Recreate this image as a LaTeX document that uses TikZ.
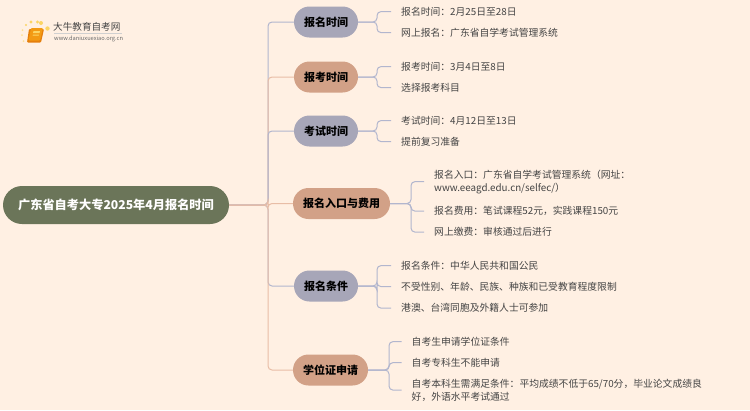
\documentclass[tikz,border=0pt]{standalone}
\usepackage{fontspec}
\setmainfont{Noto Sans CJK SC}
\usepackage{xcolor}
\usetikzlibrary{
  arrows.meta,
  positioning,
  calc,
}
\definecolor{pagebg}{HTML}{FFF0E3}
\definecolor{rootfill}{HTML}{6B7559}
\definecolor{lavender}{HTML}{A7A6B8}
\definecolor{tan}{HTML}{D2A187}
\definecolor{linkblue}{HTML}{B2B6CE}
\definecolor{linktan}{HTML}{E8BDA6}
\definecolor{inktext}{HTML}{444444}
\definecolor{logoink}{HTML}{444444}
\definecolor{bookorange}{HTML}{F39A13}
\definecolor{bookdark}{HTML}{E57F0C}
\definecolor{sunyellow}{HTML}{FBD564}
\tikzset{
  font=\fontsize{9.8pt}{13pt}\selectfont,
  root/.style={
    fill=rootfill, rounded corners=19pt,
    minimum width=226pt, minimum height=38pt, inner sep=0pt,
    text=white, font=\fontsize{12.2pt}{16pt}\selectfont\bfseries,
  },
  branch/.style={
    fill=#1, rounded corners=15.5pt,
    minimum height=31pt, inner sep=0pt,
    text=black, font=\fontsize{11pt}{15pt}\selectfont\bfseries,
  },
  leaf/.style={
    anchor=west, inner xsep=10pt, inner ysep=0pt, yshift=-0.6pt,
    align=left, text=inktext,
  },
  trunk/.style={draw=#1, line width=1pt, rounded corners=4pt},
  twig/.style={draw=linkblue, line width=1pt, rounded corners=4pt},
}
\begin{document}
\begin{tikzpicture}[x=1pt,y=-1pt]
  \fill[pagebg] (0,0) rectangle (750,410);
  \useasboundingbox (0,0) rectangle (750,410);

  % logo
  \fill[sunyellow] (41,23) circle (2pt);
  \fill[sunyellow] (37.5,22) circle (1.6pt);
  \fill[sunyellow] (31,22) circle (1.6pt);
  \fill[sunyellow] (26,25) circle (1.2pt);
  \fill[sunyellow] (47.5,28.5) circle (2.2pt);
  \fill[sunyellow!60!pagebg] (22.5,30) circle (1pt);
  \fill[sunyellow!60!pagebg] (22,35) circle (1pt);
  \fill[sunyellow!60!pagebg] (23.5,41) circle (1pt);
  \fill[bookdark, rounded corners=1pt] (29,29) -- (44,29) -- (41,42.5) -- (27,42.5) -- cycle;
  \fill[bookorange, rounded corners=1pt] (31,28) -- (43,28) -- (40,40.5) -- (28.5,40.5) -- cycle;
  \fill[sunyellow] (33.5,31) -- (40,31) -- (39.5,33) -- (33,33) -- cycle;
  \fill[sunyellow] (33,34.5) -- (39,34.5) -- (38.7,35.5) -- (32.7,35.5) -- cycle;
  \node[inner sep=0pt, anchor=west, text=logoink, font=\fontsize{9.6pt}{11pt}\selectfont] (logotitle) at (53,27) {大牛教育自考网};
  \node[inner sep=0pt, anchor=west, text=logoink!80, font=\fontsize{5.7pt}{6pt}\selectfont] (logourl) at (54,38.5) {www.daniuxuexiao.org.cn};
  \draw[logoink!25, line width=0.5pt] (54,33.5) -- (122,33.5);

  % main nodes
  \node[root] (main) at (116,205) {广东省自考大专2025年4月报名时间};
  \node[branch=lavender, minimum width=64pt] (signup) at (326,22) {报名时间};
  \node[branch=tan, minimum width=64pt] (enrol) at (326,77) {报考时间};
  \node[branch=lavender, minimum width=64pt] (exam) at (326,131) {考试时间};
  \node[branch=tan, minimum width=97pt] (entry) at (341.5,203.5) {报名入口与费用};
  \node[branch=lavender, minimum width=64pt] (cond) at (326,286) {报名条件};
  \node[branch=tan, minimum width=75pt] (degree) at (330.5,370) {学位证申请};

  % trunk, drawn in this order so the colours overlap
  \coordinate (fork) at (268,205);
  \draw[trunk=linkblue] (main.east) -- (fork) |- (signup.west);
  \draw[trunk=linktan] (main.east) -- (fork) |- (enrol.west);
  \draw[trunk=linkblue] (main.east) -- (fork) |- (exam.west);
  \draw[trunk=linkblue] (main.east) -- (fork) |- (cond.west);
  \draw[trunk=linktan] (main.east) -- (fork) |- (entry.west);
  \draw[trunk=linktan] (main.east) -- (fork) |- (degree.west);

  % leaves
  \node[leaf] (signupa) at (391,11) {报名时间：2月25日至28日};
  \node[leaf] (signupb) at (391,32) {网上报名：广东省自学考试管理系统};
  \node[leaf] (enrola) at (391,66) {报考时间：3月4日至8日};
  \node[leaf] (enrolb) at (391,87) {选择报考科目};
  \node[leaf] (exama) at (391,120) {考试时间：4月12日至13日};
  \node[leaf] (examb) at (391,141) {提前复习准备};
  \node[leaf] (entrya) at (424,181) {报名入口：广东省自学考试管理系统（网址：\\www.eeagd.edu.cn/selfec/）};
  \node[leaf] (entryb) at (424,210.5) {报名费用：笔试课程52元，实践课程150元};
  \node[leaf] (entryc) at (424,231.5) {网上缴费：审核通过后进行};
  \node[leaf] (conda) at (391,265) {报名条件：中华人民共和国公民};
  \node[leaf] (condb) at (391,286) {不受性别、年龄、民族、种族和已受教育程度限制};
  \node[leaf] (condc) at (391,307.5) {港澳、台湾同胞及外籍人士可参加};
  \node[leaf] (degreea) at (401.5,341) {自考生申请学位证条件};
  \node[leaf] (degreeb) at (401.5,362) {自考专科生不能申请};
  \node[leaf] (degreec) at (401.5,389.5) {自考本科生需满足条件：平均成绩不低于65/70分，毕业论文成绩良\\好，外语水平考试通过};

  % twigs
  \coordinate (hubsignup) at (377,22);
  \coordinate (hubenrol) at (377,77);
  \coordinate (hubexam) at (377,131);
  \coordinate (hubentry) at (411,203.5);
  \coordinate (hubcond) at (377,286);
  \coordinate (hubdegree) at (389,370);
  \foreach \from/\to in {signup/signupa,signup/signupb,enrol/enrola,enrol/enrolb,exam/exama,exam/examb,
    entry/entrya,entry/entryb,entry/entryc,cond/conda,cond/condb,cond/condc,
    degree/degreea,degree/degreeb,degree/degreec}
    \draw[twig] (\from.east) -- (hub\from) |- (\to.west);
\end{tikzpicture}
\end{document}
